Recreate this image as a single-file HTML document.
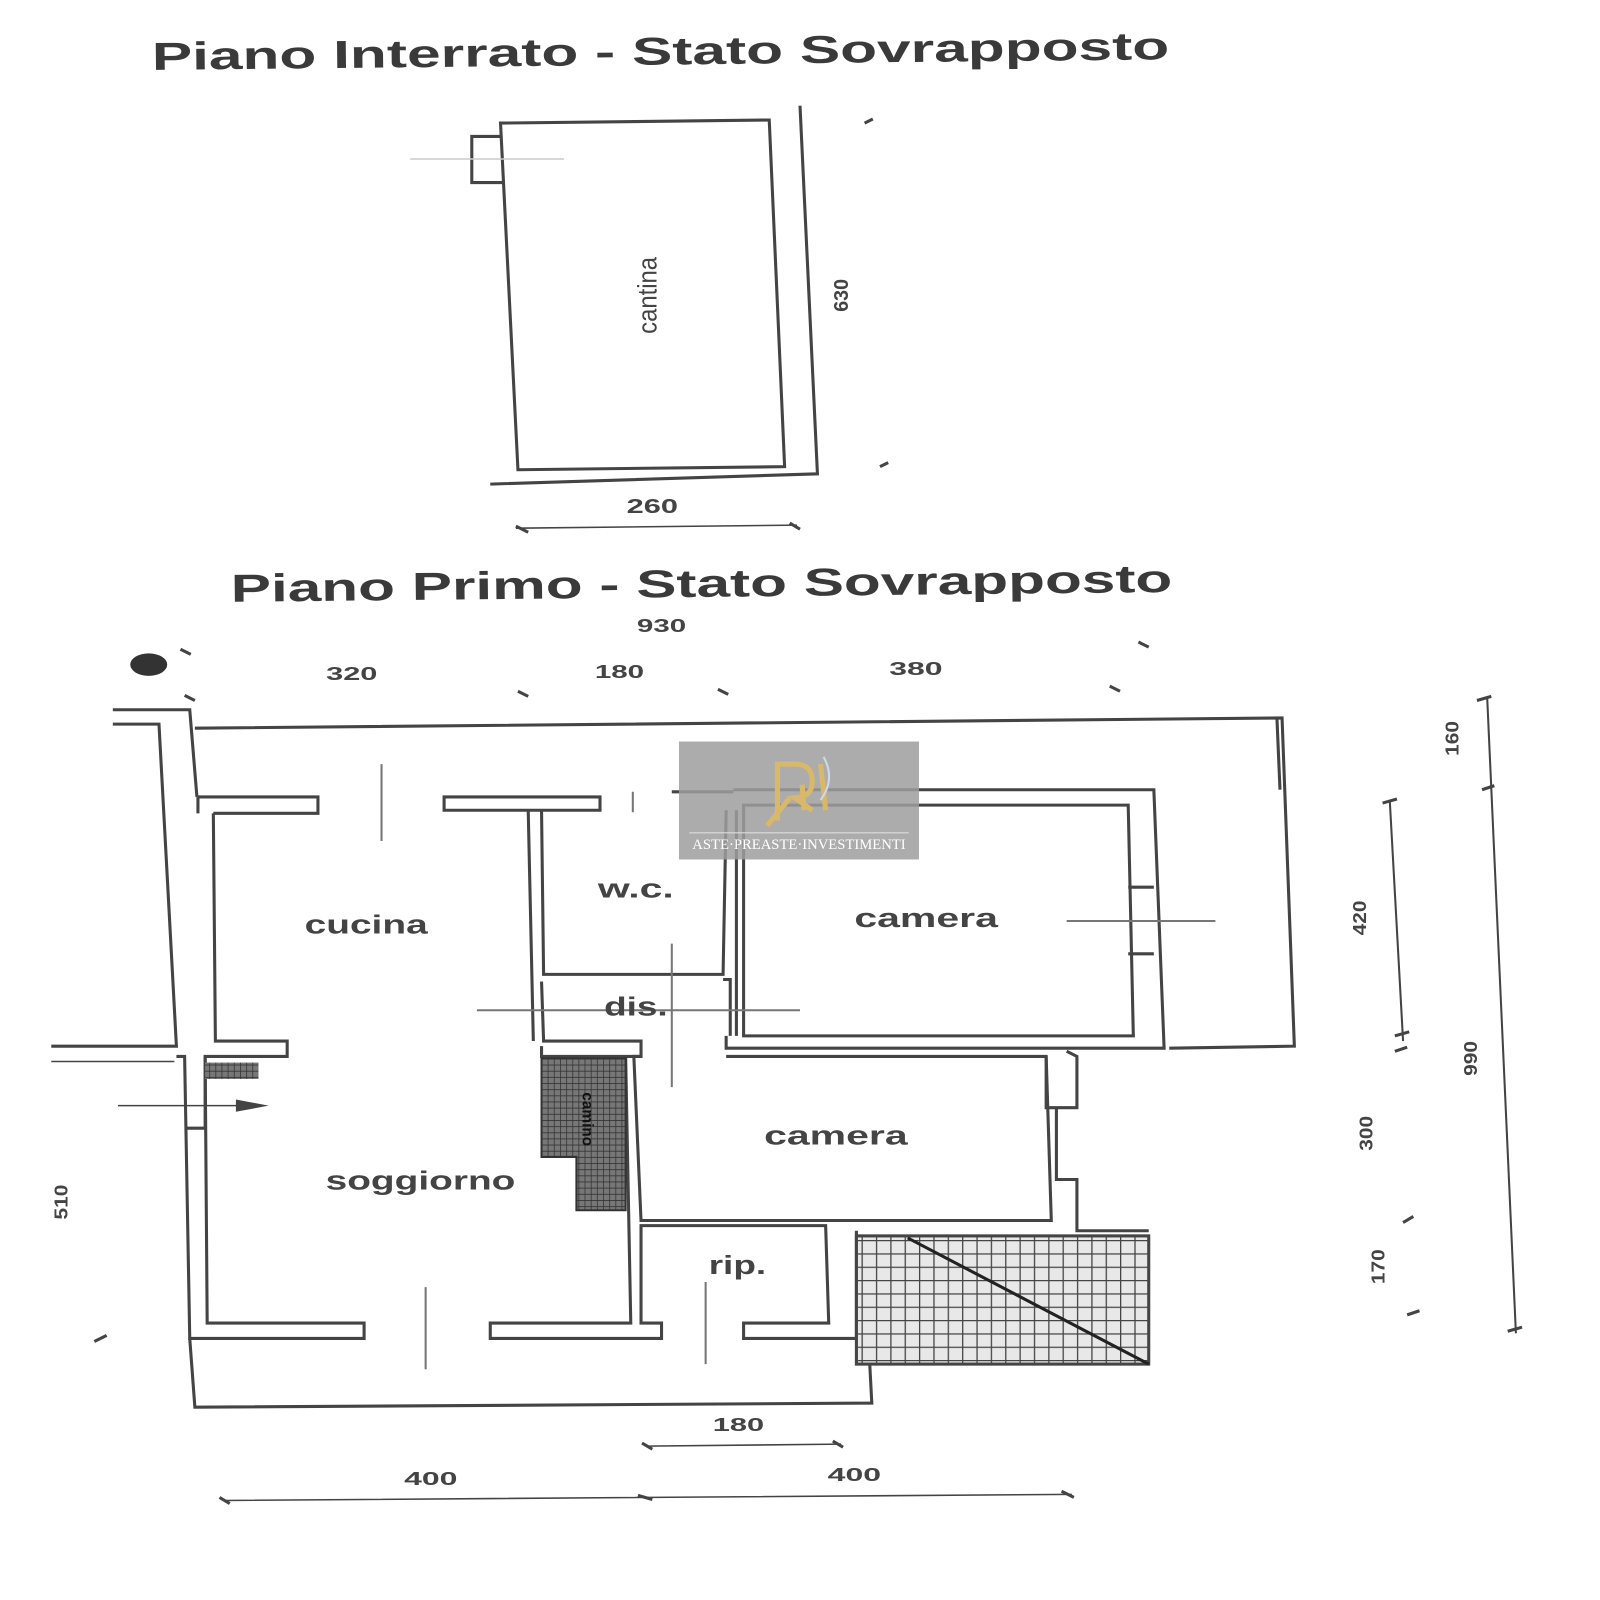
<!DOCTYPE html>
<html><head><meta charset="utf-8"><style>
html,body{margin:0;padding:0;background:#fff;}
svg{display:block;}
text{font-family:"Liberation Sans",sans-serif;fill:#444;}
</style></head><body>
<svg width="1600" height="1600" viewBox="0 0 1560 1560" xmlns="http://www.w3.org/2000/svg">
<defs>
<pattern id="grid" width="14" height="13" patternUnits="userSpaceOnUse">
<rect width="14" height="13" fill="#e8e8e8"/>
<path d="M0 0V13M0 0H14" stroke="#444" stroke-width="2.5" fill="none"/>
</pattern>
<pattern id="dark" width="6" height="6" patternUnits="userSpaceOnUse">
<rect width="6" height="6" fill="#777"/>
<path d="M0 0V6M0 0H6" stroke="#333" stroke-width="1.5" fill="none"/>
</pattern>
</defs>
<text x="148" y="63" font-size="38" font-weight="bold" transform="rotate(-0.6 640 50)" textLength="992" lengthAdjust="spacingAndGlyphs" style="fill:#3a3a3a">Piano Interrato - Stato Sovrapposto</text>
<text x="225" y="582" font-size="38" font-weight="bold" transform="rotate(-0.6 680 570)" textLength="918" lengthAdjust="spacingAndGlyphs" style="fill:#3a3a3a">Piano Primo - Stato Sovrapposto</text>

<g fill="none" stroke="#444" stroke-width="3">
<path d="M488 120 L750 117 L765 455 L505 458 Z"/>
<path d="M488 133 H460 V178 H490"/>
<path d="M780 103 L797 462 L478 472"/>
<path d="M503 515 L777 512" stroke-width="1.5"/>
<path d="M843 120l8-4M858 455l8-4M503 513l12 6M770 510l10 6" stroke-width="3"/>
<path d="M400 155 H550" stroke="#ccc" stroke-width="1.5"/>
</g>
<text font-size="26" transform="translate(640 288) rotate(-90)" text-anchor="middle" textLength="75" lengthAdjust="spacingAndGlyphs">cantina</text>
<text font-size="20" font-weight="bold" transform="translate(827 288) rotate(-90)" text-anchor="middle" textLength="32" lengthAdjust="spacingAndGlyphs">630</text>
<text x="636" y="500" font-size="20" font-weight="bold" text-anchor="middle" textLength="50" lengthAdjust="spacingAndGlyphs">260</text>

<g font-size="18" font-weight="bold" text-anchor="middle">
<text x="645" y="616" textLength="48" lengthAdjust="spacingAndGlyphs">930</text>
<text x="343" y="663" textLength="50" lengthAdjust="spacingAndGlyphs">320</text>
<text x="604" y="661" textLength="48" lengthAdjust="spacingAndGlyphs">180</text>
<text x="893" y="658" textLength="52" lengthAdjust="spacingAndGlyphs">380</text>
</g>
<g stroke="#444" stroke-width="3" fill="none">
<path d="M180 678l10 5M505 674l10 5M700 672l10 5M1082 669l10 5M1110 626l10 5M176 633l10 5"/>
</g>
<ellipse cx="145" cy="648" rx="18" ry="11" fill="#333"/>

<g fill="none" stroke="#444" stroke-width="3">
<path d="M110 706 H155 L172 1020 H50"/>
<path d="M110 692 H185 L192 777"/>
<path d="M190 710 L1250 700 L1262 1020 L1140 1022"/>
<path d="M1245 700 L1248 770"/>
<path d="M193 777 H310 V793 H208"/>
<path d="M433 777 H585 V790 H433 Z"/>
<path d="M655 772 H715"/>
<path d="M715 770 H1125 L1135 1022 H708 V1010"/>
<path d="M193 777 L193 793 M208 793 L210 1015 H280 V1030 H200 L202 1290 H355 V1305 H185 L180 1030 H172"/>
<path d="M515 790 L520 1015 M528 790 L530 950 H705 L708 790 M528 957 L530 1015 H625 V1030 H528 V1020"/>
<path d="M705 955 H712 V1010 M718 790 L718 1010 M725 785 L1100 785 L1105 1010 L725 1010 Z"/>
<path d="M1100 865 H1125 M1100 930 H1125"/>
<path d="M708 1030 H1020 L1025 1190 H625 L618 1030 H625"/>
<path d="M1020 1030 V1080 H1050 V1030 L1040 1025 M1030 1080 V1150 H1050 V1200 L1120 1200"/>
<path d="M610 1030 L615 1290 H478 V1305 H645 V1290 L625 1290 L625 1195 H805 L808 1290 H725 V1305 H835 V1200"/>
<path d="M185 1305 L190 1372 L850 1368 L848 1330"/>
<path d="M200 1030 V1100 M180 1100 H200"/>
<path d="M115 1078 H255" stroke-width="1.5"/>
<path d="M230 1072 L262 1078 L230 1084" fill="#444" stroke="none"/>
<path d="M50 1035 H170" stroke-width="1.5"/>
<path d="M372 745 V820 M617 772 V792 M655 920 V1060 M415 1255 V1335 M688 1250 V1330 M465 985 H780 M1040 898 H1185" stroke="#777" stroke-width="2"/>
<path d="M1355 780 L1368 1015 M1450 680 L1478 1300" stroke-width="2"/>
<path d="M1440 683l14-4M1348 783l14-4M1360 1010l14-4M1360 1025l12-4M1445 770l12-4M1470 1298l14-4M1368 1192l10-6M1372 1282l12-4M92 1308l12-6" stroke-width="3"/>
<path d="M630 1410 L820 1408 M218 1463 L1045 1457" stroke-width="1.5"/>
<path d="M626 1407l10 6M812 1405l10 6M214 1460l10 6M622 1458l14 4M1035 1454l12 6" stroke-width="3"/>
</g>
<rect x="835" y="1205" width="285" height="125" fill="url(#grid)" stroke="#444" stroke-width="3"/>
<path d="M885 1207 L1120 1330" stroke="#222" stroke-width="3"/>
<path d="M528 1032 H610 V1180 H562 V1128 H528 Z" fill="url(#dark)" stroke="#333" stroke-width="2"/>
<rect x="200" y="1036" width="52" height="16" fill="url(#dark)"/>
<text font-size="15" font-weight="bold" transform="translate(568 1065) rotate(90)" style="fill:#111">camino</text>

<g font-size="25" font-weight="bold" text-anchor="middle">
<text x="357" y="910" textLength="120" lengthAdjust="spacingAndGlyphs">cucina</text>
<text x="620" y="875" textLength="74" lengthAdjust="spacingAndGlyphs">w.c.</text>
<text x="903" y="904" textLength="140" lengthAdjust="spacingAndGlyphs">camera</text>
<text x="620" y="990" textLength="62" lengthAdjust="spacingAndGlyphs">dis.</text>
<text x="815" y="1116" textLength="140" lengthAdjust="spacingAndGlyphs">camera</text>
<text x="410" y="1160" textLength="185" lengthAdjust="spacingAndGlyphs">soggiorno</text>
<text x="719" y="1242" textLength="56" lengthAdjust="spacingAndGlyphs">rip.</text>
</g>
<g font-size="18" font-weight="bold" text-anchor="middle">
<text transform="translate(1422 720) rotate(-90)" textLength="34" lengthAdjust="spacingAndGlyphs">160</text>
<text transform="translate(1332 895) rotate(-90)" textLength="34" lengthAdjust="spacingAndGlyphs">420</text>
<text transform="translate(1440 1032) rotate(-90)" textLength="34" lengthAdjust="spacingAndGlyphs">990</text>
<text transform="translate(1338 1105) rotate(-90)" textLength="34" lengthAdjust="spacingAndGlyphs">300</text>
<text transform="translate(1350 1235) rotate(-90)" textLength="34" lengthAdjust="spacingAndGlyphs">170</text>
<text transform="translate(66 1172) rotate(-90)" textLength="34" lengthAdjust="spacingAndGlyphs">510</text>
<text x="720" y="1395" textLength="50" lengthAdjust="spacingAndGlyphs">180</text>
<text x="420" y="1448" textLength="52" lengthAdjust="spacingAndGlyphs">400</text>
<text x="833" y="1444" textLength="52" lengthAdjust="spacingAndGlyphs">400</text>
</g>

<rect x="662" y="723" width="234" height="115" fill="#9e9e9e" opacity="0.85"/>
<path d="M758 800 V745 H775 Q792 745 792 762 Q792 777 775 778 L792 790 M770 778 L748 805 M782 765 L784 790 M800 745 L805 790" fill="none" stroke="#d8b86a" stroke-width="5"/>
<path d="M803 738 Q815 760 800 780" fill="none" stroke="#cfd8e8" stroke-width="2"/>
<line x1="672" y1="812" x2="886" y2="812" stroke="#ddd" stroke-width="1"/>
<text x="779" y="828" font-size="14" text-anchor="middle" style="font-family:'Liberation Serif',serif;fill:#fff" textLength="208" lengthAdjust="spacingAndGlyphs">ASTE·PREASTE·INVESTIMENTI</text>
</svg>
</body></html>
